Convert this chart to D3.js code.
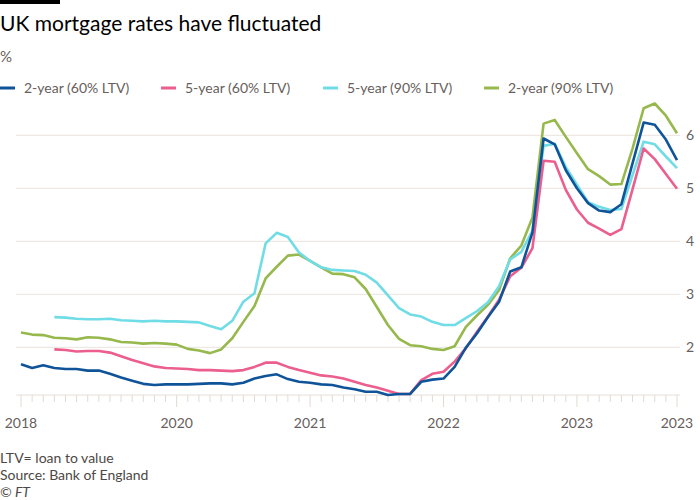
<!DOCTYPE html>
<html><head><meta charset="utf-8">
<script src="https://cdn.jsdelivr.net/npm/d3@7"></script>
<style>
body{margin:0;background:#fff;}
text{font-family:Lato, "Noto Sans", sans-serif;}
</style>
</head><body>
<svg id="chart" width="700" height="500"></svg>
<script>
// ---- Data (monthly, Nov 2018 – Oct 2023) ----
const months = d3.timeMonth.range(new Date(2018, 10, 1), new Date(2023, 10, 1));
const seriesNames = ["2-year (60% LTV)", "5-year (60% LTV)", "5-year (90% LTV)", "2-year (90% LTV)"];
const seriesColors = ["#0f5499", "#eb5e8d", "#70dce6", "#96b84c"];

const twoYear60 = [1.68,1.61,1.66,1.61,1.59,1.59,1.56,1.56,1.50,1.43,1.37,1.31,1.29,1.30,1.30,1.30,1.31,1.32,1.32,1.30,
  1.33,1.41,1.46,1.49,1.40,1.35,1.33,1.30,1.29,1.24,1.21,1.16,1.16,1.10,1.12,1.12,1.35,1.39,1.41,1.63,
  1.99,2.26,2.57,2.86,3.43,3.51,4.17,5.94,5.83,5.34,5.00,4.72,4.58,4.55,4.70,5.47,6.24,6.20,5.92,5.53];
const fiveYear60 = [null,null,null,1.96,1.95,1.92,1.93,1.93,1.90,1.83,1.76,1.70,1.64,1.61,1.60,1.59,1.57,1.57,1.56,1.55,
  1.57,1.63,1.71,1.71,1.63,1.57,1.52,1.47,1.45,1.41,1.35,1.29,1.24,1.18,1.12,1.12,1.38,1.50,1.54,1.73,
  1.98,2.29,2.58,2.90,3.34,3.50,3.87,5.52,5.50,4.97,4.60,4.35,4.24,4.12,4.23,4.98,5.75,5.55,5.27,4.99];
const fiveYear90 = [null,null,null,2.57,2.56,2.54,2.53,2.53,2.54,2.51,2.50,2.49,2.50,2.49,2.49,2.48,2.47,2.40,2.34,2.50,
  2.86,3.02,3.96,4.16,4.08,3.79,3.63,3.51,3.46,3.45,3.44,3.37,3.22,2.98,2.74,2.62,2.58,2.48,2.42,2.42,
  2.55,2.68,2.85,3.15,3.66,3.80,4.20,5.80,5.84,5.40,5.07,4.74,4.65,4.59,4.61,5.25,5.88,5.83,5.60,5.38];
const twoYear90 = [2.28,2.24,2.23,2.18,2.17,2.15,2.19,2.18,2.15,2.10,2.09,2.07,2.08,2.07,2.05,1.97,1.94,1.89,1.96,2.17,
  2.48,2.78,3.30,3.52,3.73,3.75,3.63,3.51,3.39,3.38,3.32,3.10,2.76,2.42,2.16,2.04,2.02,1.97,1.95,2.02,
  2.38,2.60,2.80,3.08,3.68,3.92,4.45,6.22,6.29,5.97,5.66,5.36,5.23,5.07,5.08,5.75,6.51,6.60,6.37,6.04];

const yTicks = [2, 3, 4, 5, 6];
const xTickDates = [new Date(2018,10,1), new Date(2020,0,1), new Date(2021,0,1), new Date(2022,0,1), new Date(2023,0,1), new Date(2023,9,1)];
const xTickLabels = ["2018", "2020", "2021", "2022", "2023", "2023"];

// ---- Drawing ----
const svg = d3.select("#chart");
const allSeries = [twoYear60, fiveYear60, fiveYear90, twoYear90];
const drawOrder = [3, 2, 1, 0];

const x = d3.scalePoint().domain(months.map(d => +d)).range([21, 677]);
const allVals = allSeries.flat().filter(v => v != null);
const y = d3.scaleLinear().domain(d3.extent(allVals)).range([395, 103.5]);

// top bar
svg.append("rect").attr("x", 0).attr("y", 0).attr("width", 60).attr("height", 4).attr("fill", "#000");

// title etc.
svg.append("text").attr("x", 0).attr("y", 31).attr("font-size", 21).attr("fill", "#000")
  .text("UK mortgage rates have fluctuated");
svg.append("text").attr("x", 0).attr("y", 62).attr("font-size", 15).attr("fill", "#66605c").text("%");

// legend
const legendX = [0, 161, 323, 484];
seriesNames.forEach((n, i) => {
  const g = svg.append("g").attr("transform", `translate(${legendX[i]},88)`);
  g.append("line").attr("x1", 0).attr("x2", 15).attr("y1", 0).attr("y2", 0)
    .attr("stroke", seriesColors[i]).attr("stroke-width", 3);
  g.append("text").attr("x", 24).attr("y", 5).attr("font-size", 14).attr("fill", "#66605c").text(n);
});

// gridlines
svg.append("g").selectAll("line").data(yTicks).join("line")
  .attr("x1", 16).attr("x2", 680).attr("y1", d => y(d)).attr("y2", d => y(d))
  .attr("stroke", "#e9e3dc").attr("stroke-width", 1);
svg.append("g").selectAll("text").data(yTicks).join("text")
  .attr("x", 686).attr("y", d => y(d)).attr("dy", "0.35em")
  .attr("font-size", 14).attr("fill", "#66605c").text(d => d);

// x axis
const xAxis = svg.append("g");
xAxis.append("line").attr("x1", 16).attr("x2", 680).attr("y1", 395).attr("y2", 395)
  .attr("stroke", "#e6dfd8");
const majorSet = new Set(xTickDates.map(d => +d));
xAxis.selectAll("line.tick").data(months).join("line").attr("class", "tick")
  .attr("x1", d => x(+d)).attr("x2", d => x(+d))
  .attr("y1", 395).attr("y2", d => majorSet.has(+d) ? 407 : 402)
  .attr("stroke", "#e2dad2").attr("stroke-width", 1);
xAxis.selectAll("text").data(xTickDates).join("text")
  .attr("x", d => x(+d)).attr("y", 428).attr("text-anchor", "middle")
  .attr("font-size", 14).attr("fill", "#66605c").text((d, i) => xTickLabels[i]);

// lines
const line = d3.line().defined(d => d.v != null).x(d => x(d.t)).y(d => y(d.v));
drawOrder.forEach(i => {
  const data = allSeries[i].map((v, j) => ({ t: +months[j], v }));
  svg.append("path").datum(data).attr("d", line).attr("fill", "none")
    .attr("stroke", seriesColors[i]).attr("stroke-width", 2.6)
    .attr("stroke-linejoin", "round").attr("stroke-linecap", "butt");
});

// footer
const foot = ["LTV= loan to value", "Source: Bank of England"];
foot.forEach((t, i) => svg.append("text").attr("x", 0).attr("y", 463 + i * 17)
  .attr("font-size", 14).attr("fill", "#4d4845").text(t));
svg.append("text").attr("x", 0).attr("y", 497).attr("font-size", 14).attr("font-style", "italic")
  .attr("fill", "#4d4845").text("© FT");
</script>
</body></html>
